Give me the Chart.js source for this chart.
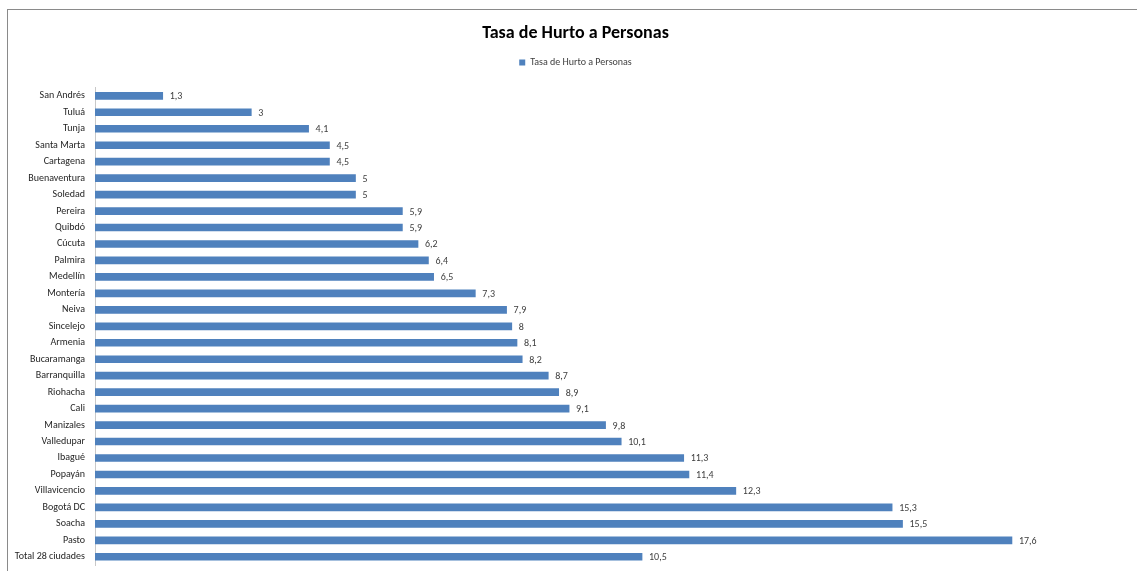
<!DOCTYPE html>
<html>
<head>
<meta charset="utf-8">
<script src="https://cdn.jsdelivr.net/npm/chart.js@4"></script>
<style>
  html, body { margin: 0; padding: 0; background: #fff; }
  #wrap { position: relative; width: 1137px; height: 571px; overflow: hidden; }
  #frame { position: absolute; left: 7px; top: 9px; width: 1200px; height: 700px; border: 1px solid #8a8a8a; pointer-events: none; box-sizing: border-box; }
  canvas { position: absolute; left: 0; top: 0; }
</style>
</head>
<body>
<div id="wrap">
  <canvas id="c" width="1137" height="571"></canvas>
  <div id="frame"></div>
</div>
<script>
const categories = ["San Andrés","Tuluá","Tunja","Santa Marta","Cartagena","Buenaventura","Soledad","Pereira","Quibdó","Cúcuta","Palmira","Medellín","Montería","Neiva","Sincelejo","Armenia","Bucaramanga","Barranquilla","Riohacha","Cali","Manizales","Valledupar","Ibagué","Popayán","Villavicencio","Bogotá DC","Soacha","Pasto","Total 28 ciudades"];
const values = [1.3,3,4.1,4.5,4.5,5,5,5.9,5.9,6.2,6.4,6.5,7.3,7.9,8,8.1,8.2,8.7,8.9,9.1,9.8,10.1,11.3,11.4,12.3,15.3,15.5,17.6,10.5];
const seriesName = "Tasa de Hurto a Personas";
const chartTitle = "Tasa de Hurto a Personas";
const xMin = 0, xMax = 20;

const FONT = "Carlito, 'Liberation Sans', sans-serif";

const labelPlugin = {
  id: 'barLabels',
  afterDatasetsDraw(chart) {
    const ctx = chart.ctx;
    const meta = chart.getDatasetMeta(0);
    ctx.save();
    ctx.font = "10px " + FONT;
    ctx.fillStyle = "#404040";
    ctx.textAlign = "left";
    ctx.textBaseline = "middle";
    meta.data.forEach((bar, i) => {
      const v = chart.data.datasets[0].data[i];
      ctx.fillText(String(v).replace('.', ','), bar.x + 7, bar.y + 1);
    });
    ctx.restore();
  }
};

new Chart(document.getElementById('c'), {
  type: 'bar',
  data: {
    labels: categories,
    datasets: [{
      label: seriesName,
      data: values,
      backgroundColor: '#4f81bd',
      borderWidth: 0,
      barThickness: 7
    }]
  },
  options: {
    indexAxis: 'y',
    responsive: false,
    animation: false,
    layout: { padding: { left: 14, right: 0, top: 0, bottom: 6 } },
    plugins: {
      title: {
        display: true,
        text: chartTitle,
        color: '#000',
        font: { family: FONT, size: 18, weight: 'bold', lineHeight: 1.2 },
        padding: { top: 23, bottom: 3 }
      },
      legend: {
        display: true,
        labels: {
          color: '#404040',
          font: { family: FONT, size: 10 },
          boxWidth: 6, boxHeight: 6,
          padding: 10
        }
      },
      tooltip: { enabled: false }
    },
    scales: {
      x: {
        position: 'top',
        min: xMin, max: xMax,
        ticks: { display: false },
        grid: { display: false, drawTicks: false },
        border: { display: false },
        afterFit: (s) => { s.height = 10; }
      },
      y: {
        ticks: { color: '#262626', font: { family: FONT, size: 10 }, padding: 0, autoSkip: false },
        grid: { display: false, drawTicks: true, tickLength: 10 },
        border: { display: true, color: '#c8c8c8', width: 1 },
        afterFit: (s) => { s.width = 81; }
      }
    }
  },
  plugins: [labelPlugin]
});
</script>
</body>
</html>
